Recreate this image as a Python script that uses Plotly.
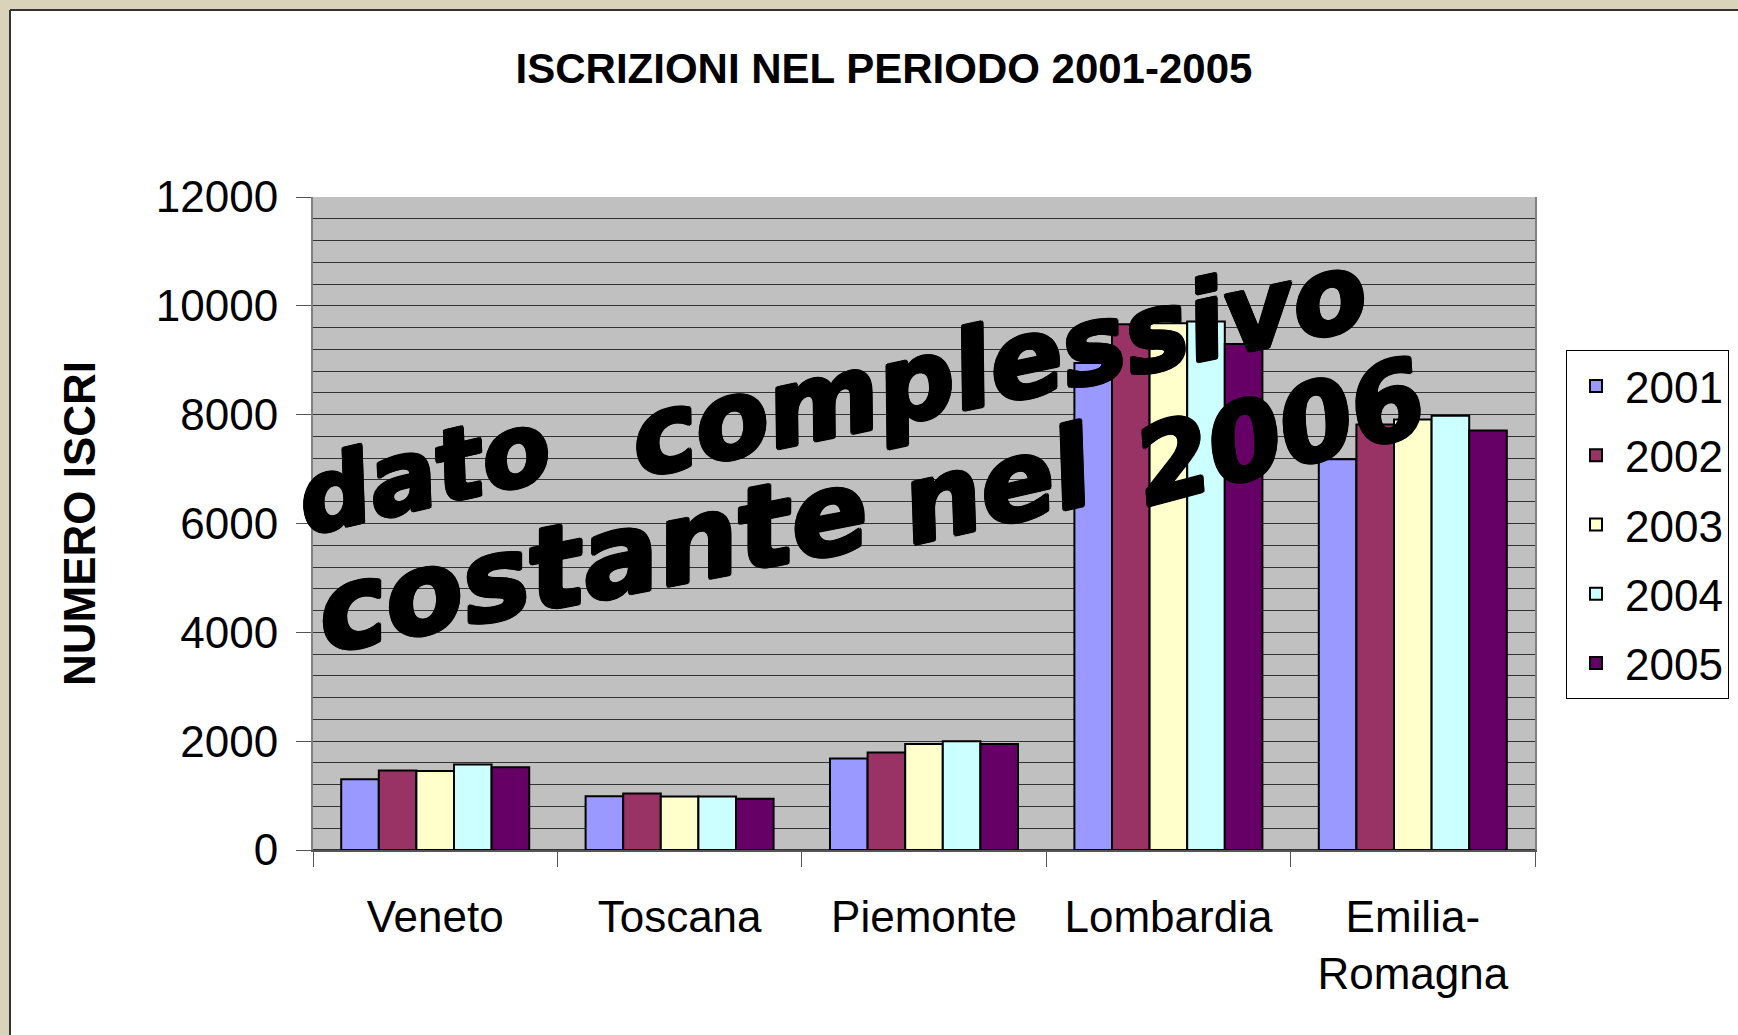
import plotly.graph_objects as go

# ---------------- data ----------------
regions = ["Veneto", "Toscana", "Piemonte", "Lombardia", "Emilia-Romagna"]
region_labels = ["Veneto", "Toscana", "Piemonte", "Lombardia", "Emilia-<br>Romagna"]
years = ["2001", "2002", "2003", "2004", "2005"]
y2001 = [1300, 990, 1680, 8950, 7180]
y2002 = [1460, 1040, 1790, 9660, 7820]
y2003 = [1450, 985, 1950, 9680, 7910]
y2004 = [1570, 985, 2000, 9710, 7980]
y2005 = [1520, 940, 1950, 9300, 7710]
y_ticks = [0, 2000, 4000, 6000, 8000, 10000, 12000]
y_tick_labels = ["0", "2000", "4000", "6000", "8000", "10000", "12000"]
title_text = "ISCRIZIONI NEL PERIODO 2001-2005"
y_title = "NUMERO ISCRI"
overlay_words = ["dato", "complessivo", "costante", "nel", "2006"]

# ---------------- styling ----------------
series = [y2001, y2002, y2003, y2004, y2005]
colors = ["#9999FF", "#993366", "#FFFFCC", "#CCFFFF", "#660066"]

W, H = 1738, 1035
L, R, T, B = 313, 1535, 197, 850   # plot area in px
PW, PH = R - L, B - T


def px(x, y):
    return (x - L) / PW, (B - y) / PH


fig = go.Figure()
for name, vals, col in zip(years, series, colors):
    fig.add_trace(go.Bar(
        x=regions, y=vals, name=name, legendgroup=name,
        marker=dict(color=col, line=dict(color="#000000", width=2)),
    ))

SANS = "Liberation Sans, Arial, sans-serif"
AX_FONT = dict(family=SANS, size=44, color="#000000")

fig.update_layout(
    width=W, height=H,
    margin=dict(l=L, r=W - R, t=T, b=H - B, autoexpand=False),
    paper_bgcolor="#FFFFFF",
    plot_bgcolor="#C0C0C0",
    barmode="group", bargap=0.2308, bargroupgap=0,
    title=dict(text=title_text, x=884 / W, xanchor="center", xref="container",
               y=1 - 68 / H, yanchor="middle", yref="container",
               font=dict(family=SANS, size=42, color="#000000", weight="bold")),
    showlegend=True,
    legend=dict(
        x=px(1566, 0)[0], xanchor="left", y=px(0, 350)[1], yanchor="top",
        bgcolor="#FFFFFF", bordercolor="#000000", borderwidth=1,
        font=dict(family=SANS, size=44, color="#000000"),
        tracegroupgap=9, traceorder="grouped", itemwidth=48,
    ),
    xaxis=dict(
        type="category", categoryorder="array", categoryarray=regions,
        tickmode="array", tickvals=regions, ticktext=region_labels,
        tickson="boundaries", ticks="outside", ticklen=15, tickwidth=1, tickcolor="#555555",
        ticklabelstandoff=27,
        showline=True, linecolor="#555555", linewidth=2, mirror=False,
        showgrid=False, tickfont=AX_FONT,
    ),
    yaxis=dict(
        range=[0, 12000], tickmode="array", tickvals=y_ticks, ticktext=y_tick_labels,
        ticks="outside", ticklen=15, tickwidth=1, tickcolor="#555555",
        ticklabelstandoff=9,
        showline=True, linecolor="#808080", linewidth=2, mirror=True,
        showgrid=True, gridcolor="#333333", gridwidth=1,
        minor=dict(dtick=400, tick0=0, showgrid=True, gridcolor="#333333", gridwidth=1),
        zeroline=True, zerolinecolor="#333333", zerolinewidth=2,
        tickfont=AX_FONT,
        title=dict(text=y_title, standoff=46,
                   font=dict(family=SANS, size=44, color="#000000", weight="bold")),
    ),
)

# ---------------- page frame ----------------
x0, y0 = px(0, 0)
x9, y9 = px(10, 10)
x1, y1 = px(W, H)
fig.add_shape(type="rect", xref="paper", yref="paper", x0=x0, x1=x9, y0=y1, y1=y0,
              fillcolor="#D9D3BA", line=dict(width=0), layer="below")
fig.add_shape(type="rect", xref="paper", yref="paper", x0=x0, x1=x1, y0=y9, y1=y0,
              fillcolor="#D9D3BA", line=dict(width=0), layer="below")
fig.add_shape(type="line", xref="paper", yref="paper", x0=x9, x1=x9, y0=y1, y1=y9,
              line=dict(color="#333333", width=2))
fig.add_shape(type="line", xref="paper", yref="paper", x0=x9, x1=x1, y0=y9, y1=y9,
              line=dict(color="#333333", width=2))

# ---------------- WordArt-like overlay ----------------
word_geom = [  # (center x px, center y px, angle, size)
    (424, 472, -13, 100),
    (998, 364, -11.7, 108),
    (592, 560, -11, 114),
    (997, 486, -13, 110),
    (1280, 432, -15, 106),
]
shadow = ("2px 0 0 #000, -2px 0 0 #000, 0 2px 0 #000, 0 -2px 0 #000, "
          "1.5px 1.5px 0 #000, -1.5px -1.5px 0 #000, 1.5px -1.5px 0 #000, -1.5px 1.5px 0 #000")
for word, (cx, cy, ang, sz) in zip(overlay_words, word_geom):
    ax_, ay_ = px(cx, cy)
    fig.add_annotation(
        text=word, xref="paper", yref="paper", x=ax_, y=ay_,
        xanchor="center", yanchor="middle", showarrow=False, textangle=ang,
        font=dict(family="DejaVu Sans, sans-serif", size=sz, color="#000000",
                  weight="bold", style="italic", shadow=shadow),
    )

fig.write_html(
    "out.html",
    config={"displayModeBar": False},
    post_script="document.body.style.margin='0px';document.body.style.padding='0px';"
                "document.body.style.overflow='hidden';",
)
